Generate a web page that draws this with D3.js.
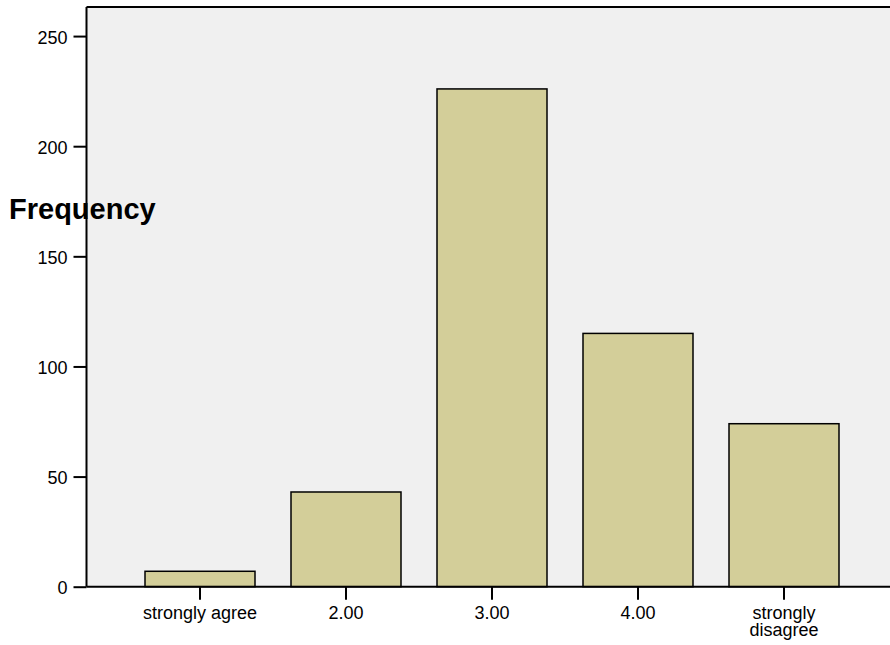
<!DOCTYPE html>
<html>
<head>
<meta charset="utf-8">
<script src="https://cdn.jsdelivr.net/npm/d3@7"></script>
<style>
  html, body { margin: 0; padding: 0; background: #ffffff; }
  svg { display: block; font-family: "Liberation Sans", Arial, sans-serif; }
</style>
</head>
<body>
<svg id="chart" width="890" height="645"></svg>
<script>
const categories = ["strongly agree", "2.00", "3.00", "4.00", "strongly disagree"];
const frequencies = [7, 43, 226, 115, 74];
const yTicks = [0, 50, 100, 150, 200, 250];
const yLabel = "Frequency";

const svg = d3.select("#chart");
const plotLeft = 86.5, plotTop = 7, plotBottom = 586.7, plotRight = 900;

const y = d3.scaleLinear().domain([0, 263.2]).range([plotBottom, plotTop]);
const x = d3.scaleBand().domain(categories).range([127, 857])
  .paddingInner(36 / 146).paddingOuter(18 / 146);

// plot background
svg.append("rect")
  .attr("x", plotLeft).attr("y", plotTop)
  .attr("width", plotRight - plotLeft).attr("height", plotBottom - plotTop)
  .attr("fill", "#f0f0f0");

// top border
svg.append("line")
  .attr("x1", plotLeft).attr("x2", plotRight)
  .attr("y1", plotTop).attr("y2", plotTop)
  .attr("stroke", "#000").attr("stroke-width", 2);

// bars
svg.selectAll("rect.bar").data(categories).enter().append("rect")
  .attr("class", "bar")
  .attr("x", d => x(d))
  .attr("y", (d, i) => y(frequencies[i]))
  .attr("width", x.bandwidth())
  .attr("height", (d, i) => y(0) - y(frequencies[i]))
  .attr("fill", "#d3ce99")
  .attr("stroke", "#000")
  .attr("stroke-width", 1.5);

// y axis
const yAxis = d3.axisLeft(y).tickValues(yTicks).tickSize(13).tickPadding(6);
const gy = svg.append("g").attr("transform", `translate(${plotLeft},0)`).call(yAxis);
gy.select(".domain").attr("stroke-width", 2).attr("d", `M0,${plotTop}V${plotBottom}`);
gy.selectAll(".tick line").attr("stroke-width", 2);
gy.selectAll(".tick text").attr("font-size", 18).attr("fill", "#000")
  .attr("font-family", "Liberation Sans, Arial, sans-serif").attr("dy", "0.4em");

// x axis
const xAxis = d3.axisBottom(x).tickSize(13).tickPadding(6).tickFormat(() => "");
const gx = svg.append("g").attr("transform", `translate(0,${plotBottom})`).call(xAxis);
gx.select(".domain").attr("stroke-width", 2).attr("d", `M${plotLeft},0H${plotRight}`);
gx.selectAll(".tick line").attr("stroke-width", 2);

// x labels (multi-line for long ones)
const labelLines = { "strongly disagree": ["strongly", "disagree"] };
categories.forEach(c => {
  const lines = labelLines[c] || [c];
  const t = svg.append("text")
    .attr("x", x(c) + x.bandwidth() / 2)
    .attr("y", 619)
    .attr("text-anchor", "middle")
    .attr("font-size", 18)
    .attr("fill", "#000");
  lines.forEach((ln, i) => {
    t.append("tspan").attr("x", x(c) + x.bandwidth() / 2)
      .attr("dy", i === 0 ? 0 : 17).text(ln);
  });
});

// y label
svg.append("text")
  .attr("x", 9).attr("y", 219)
  .attr("font-size", 29).attr("font-weight", "bold")
  .attr("fill", "#000")
  .text(yLabel);
</script>
</body>
</html>
